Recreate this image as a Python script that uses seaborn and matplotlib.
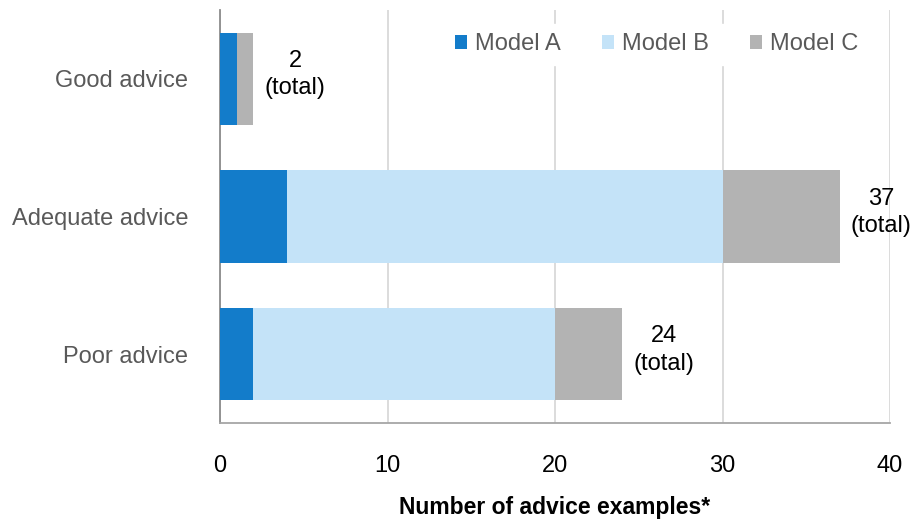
import numpy as np
import pandas as pd
import matplotlib
matplotlib.use("Agg")
import matplotlib.pyplot as plt
from matplotlib.patches import Patch
import seaborn as sns

categories = ["Good advice", "Adequate advice", "Poor advice"]
series_names = ["Model A", "Model B", "Model C"]
model_a = [1, 4, 2]
model_b = [0, 26, 18]
model_c = [1, 7, 4]
x_ticks = [0, 10, 20, 30, 40]
x_label = "Number of advice examples*"

colors = ["#137CCA", "#C4E3F8", "#B3B3B3"]

sns.set_theme(style="white")
plt.rcParams["font.family"] = ["Liberation Sans", "DejaVu Sans"]

fig = plt.figure(figsize=(9.2, 5.21), dpi=100)
ax = fig.add_axes([220 / 920, 1 - 423 / 521, 670 / 920, 413 / 521])

values = np.array([model_a, model_b, model_c], dtype=float)
cumulative = np.cumsum(values, axis=0)
totals = cumulative[-1]

# Stacked bars: draw cumulative lengths from the outermost segment inwards
for i in reversed(range(len(series_names))):
    df = pd.DataFrame({"category": categories, "value": cumulative[i]})
    sns.barplot(data=df, x="value", y="category", orient="h", color=colors[i],
                width=0.67, saturation=1, linewidth=0, edgecolor="none",
                ax=ax, zorder=3)

ax.set_xlim(0, 40)
ax.set_ylim(2.5, -0.5)
ax.set_xticks(x_ticks)
ax.set_xticklabels([str(t) for t in x_ticks])
ax.xaxis.grid(True, color="#D9D9D9", linewidth=1.3, zorder=0)
ax.yaxis.grid(False)
ax.set_axisbelow(True)

for side in ["top", "right"]:
    ax.spines[side].set_visible(False)
ax.spines["left"].set_color("#8C8C8C")
ax.spines["left"].set_linewidth(1.3)
ax.spines["bottom"].set_color("#A6A6A6")
ax.spines["bottom"].set_linewidth(1.3)

ax.tick_params(axis="x", length=0, pad=23, labelsize=17, labelcolor="black")
ax.tick_params(axis="y", length=0, pad=23, labelsize=17, labelcolor="#595959")
ax.set_ylabel("")
ax.set_xlabel(x_label, fontsize=16.5, fontweight="bold", color="black", labelpad=14)

# Total labels to the right of each bar
for yi, total in enumerate(totals):
    ax.annotate(f"{int(total)}\n(total)", xy=(total, yi), xytext=(30, 3),
                textcoords="offset points", ha="center", va="center",
                fontsize=17, color="black", linespacing=1.3,
                annotation_clip=False)

handles = [Patch(facecolor=c, edgecolor="none") for c in colors]
leg = ax.legend(handles, series_names, loc="upper right", ncol=3,
                bbox_to_anchor=(0.985, 0.995), frameon=True, fontsize=17,
                handlelength=0.5, handleheight=0.5, handletextpad=0.35,
                columnspacing=1.75, borderpad=0.4)
leg.get_frame().set_facecolor("white")
leg.get_frame().set_edgecolor("white")
leg.get_frame().set_alpha(1)
for t in leg.get_texts():
    t.set_color("#595959")

fig.savefig("out.png", dpi=100)
